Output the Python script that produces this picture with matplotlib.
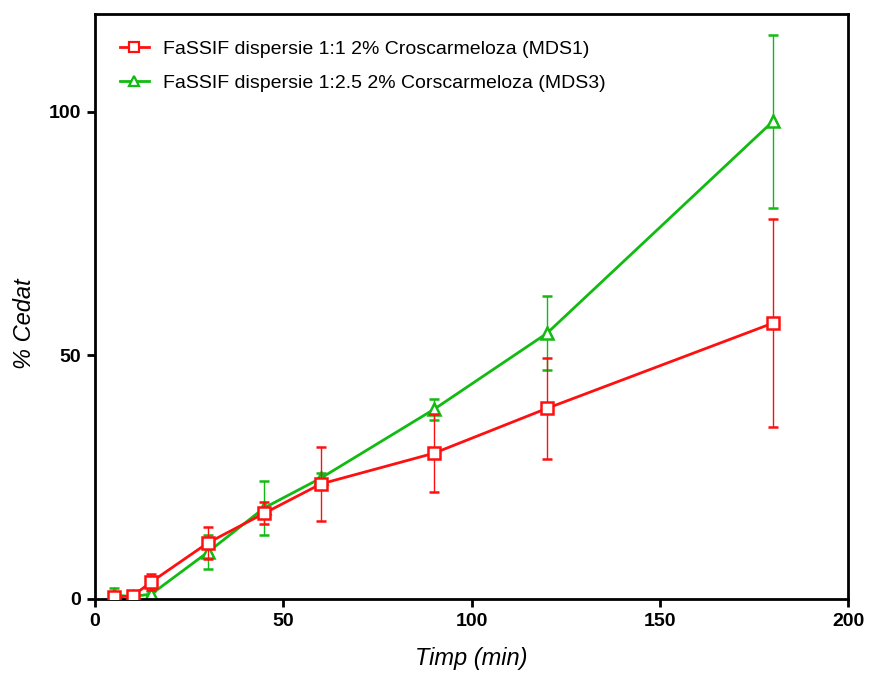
import matplotlib
matplotlib.use("Agg")
import matplotlib.pyplot as plt
from matplotlib.lines import Line2D
from matplotlib import font_manager

time_min = [5, 10, 15, 30, 45, 60, 90, 120, 180]
mds1_mean = [0.4, 0.6, 3.5, 11.5, 17.6, 23.6, 29.9, 39.1, 56.6]
mds1_err = [0.4, 0.5, 1.6, 3.3, 2.2, 7.5, 8.0, 10.4, 21.3]
mds3_mean = [0.8, 0.5, 1.0, 9.6, 18.7, 24.8, 38.9, 54.5, 98.0]
mds3_err = [1.5, 0.5, 0.6, 3.5, 5.5, 1.0, 2.2, 7.6, 17.7]
label1 = "FaSSIF dispersie 1:1 2% Croscarmeloza (MDS1)"
label3 = "FaSSIF dispersie 1:2.5 2% Corscarmeloza (MDS3)"
xticks = [0, 50, 100, 150, 200]
yticks = [0, 50, 100]

names = {f.name for f in font_manager.fontManager.ttflist}
narrow = "Liberation Sans Narrow" if "Liberation Sans Narrow" in names else "Liberation Sans"
plt.rcParams['font.family'] = ['Liberation Sans', 'DejaVu Sans']

fig = plt.figure(figsize=(8.7, 6.73), dpi=100)
ax = fig.add_axes([0.109, 0.110, 0.866, 0.869])

red = "#ff1010"
green = "#11bb11"
ax.errorbar(time_min, mds1_mean, yerr=mds1_err, color=red, marker='s', markersize=8.5,
            markerfacecolor='white', markeredgewidth=1.8, linewidth=2, elinewidth=1,
            capsize=3.7, capthick=1, zorder=3)
ax.errorbar(time_min, mds3_mean, yerr=mds3_err, color=green, marker='^', markersize=8.5,
            markerfacecolor='white', markeredgewidth=1.8, linewidth=2, elinewidth=1,
            capsize=3.7, capthick=1, zorder=2)

ax.set_xlim(0, 200)
ax.set_ylim(0, 120)
ax.set_xticks(xticks)
ax.set_yticks(yticks)
for lab in ax.get_xticklabels() + ax.get_yticklabels():
    lab.set_fontfamily(narrow)
    lab.set_fontweight('bold')
    lab.set_fontsize(14)
for s in ax.spines.values():
    s.set_linewidth(2)
ax.tick_params(direction='out', length=6, width=2, pad=4)

ax.set_xlabel("Timp (min)", fontsize=17, fontstyle='italic', labelpad=12)
ax.set_ylabel("% Cedat", fontsize=17, fontstyle='italic')
ax.yaxis.set_label_coords(-0.078, 0.47)

handles = [
    Line2D([], [], color=red, marker='s', markersize=6.5, markerfacecolor='white',
           markeredgewidth=1.6, linewidth=2),
    Line2D([], [], color=green, marker='^', markersize=6.5, markerfacecolor='white',
           markeredgewidth=1.6, linewidth=2),
]
ax.legend(handles, [label1, label3], loc='upper left', frameon=False, fontsize=14,
          handlelength=1.5, bbox_to_anchor=(0.01, 0.985), labelspacing=0.85,
          handletextpad=0.7)

fig.savefig("out.png", dpi=100)
